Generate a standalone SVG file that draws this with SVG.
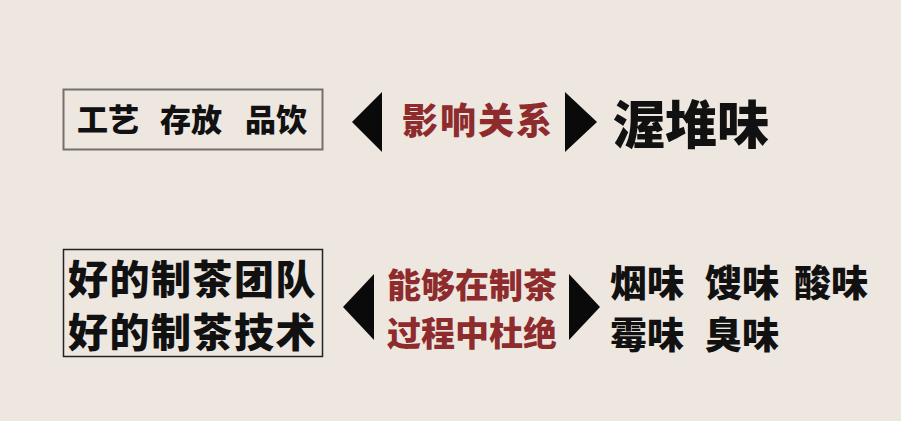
<svg xmlns="http://www.w3.org/2000/svg" width="901" height="421" viewBox="0 0 901 421">
<style>
.t{font-family:"Noto Sans CJK SC","Noto Sans CJK JP",sans-serif;font-weight:900;fill:#111}
.r{font-family:"Noto Sans CJK SC","Noto Sans CJK JP",sans-serif;font-weight:900;fill:#8e2b2c}
.arr{fill:#0a0a0a}
</style>
<rect x="0" y="0" width="901" height="421" fill="#ede7e0"/>
<g id="node-process">
<rect x="63.5" y="89.5" width="259" height="60" fill="none" stroke="#77706a" stroke-width="2"/>
<text class="t" font-size="31" y="131"><tspan x="77">工艺</tspan><tspan x="160">存放</tspan><tspan x="245">品饮</tspan></text>
</g>
<g id="node-influence">
<text class="r" font-size="36" letter-spacing="2" x="402" y="134">影响关系</text>
</g>
<g id="node-wodui">
<text class="t" font-size="52" x="613" y="144">渥堆味</text>
</g>
<g id="node-team">
<rect x="63.5" y="249.5" width="259" height="107" fill="none" stroke="#222" stroke-width="1.5"/>
<text class="t" font-size="40" letter-spacing="1.5" x="68" y="294">好的制茶团队</text>
<text class="t" font-size="40" letter-spacing="1.5" x="68" y="347">好的制茶技术</text>
</g>
<g id="node-prevent">
<text class="r" font-size="34" x="387" y="298">能够在制茶</text>
<text class="r" font-size="34" x="387" y="346">过程中杜绝</text>
</g>
<g id="node-flavors">
<text class="t" font-size="37" y="297"><tspan x="610">烟味</tspan><tspan x="705">馊味</tspan><tspan x="794">酸味</tspan></text>
<text class="t" font-size="37" y="349"><tspan x="610">霉味</tspan><tspan x="705">臭味</tspan></text>
</g>
<g id="connectors">
<polygon class="arr" points="352,122 382,92 382,152"/>
<polygon class="arr" points="565,92 565,152 597,122"/>
<polygon class="arr" points="343,307 374,274 374,340"/>
<polygon class="arr" points="569,274 569,340 600,307"/>
</g>
</svg>
